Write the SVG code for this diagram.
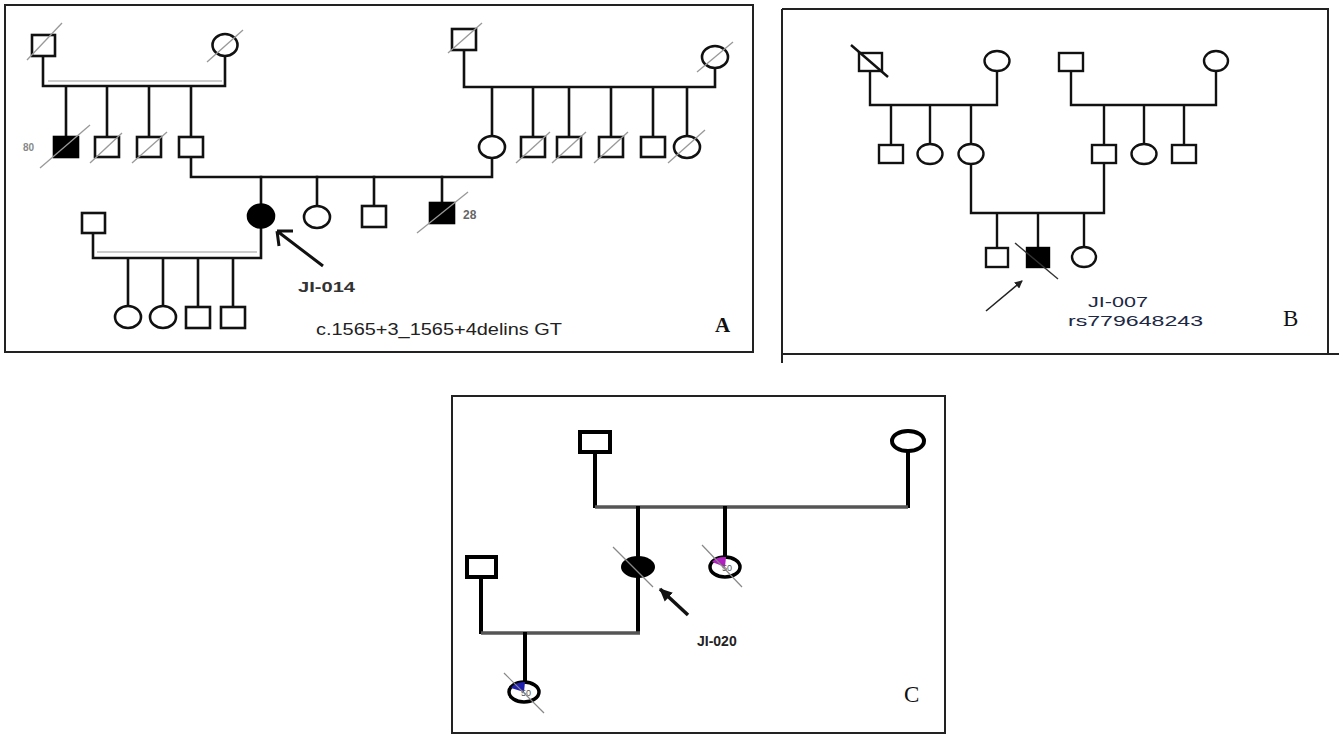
<svg xmlns="http://www.w3.org/2000/svg" width="1339" height="737" viewBox="0 0 1339 737">
<style>
.fr{fill:none;stroke:#222;stroke-width:2}
.sa{fill:#fff;stroke:#111;stroke-width:2.6}
.fa{fill:#000;stroke:#000;stroke-width:2.6}
.la{stroke:#111;stroke-width:2.6;fill:none;stroke-linecap:square}
.gl{stroke:#bbb;stroke-width:1.6;fill:none}
.sl{stroke:#999;stroke-width:1.3}
.sb{fill:#fff;stroke:#111;stroke-width:2.4}
.lb{stroke:#111;stroke-width:2.4;fill:none;stroke-linecap:square}
.sc{fill:#fff;stroke:#000;stroke-width:4}
.lc{stroke:#000;stroke-width:4;fill:none;stroke-linecap:square}
.hc{stroke:#555;stroke-width:3.5;fill:none}
.t{font-family:"Liberation Sans",Arial,sans-serif}
.s{font-family:"Liberation Serif","Times New Roman",serif}
</style>
<defs>
<marker id="ahB" markerWidth="8" markerHeight="8" refX="7" refY="4" orient="auto" markerUnits="userSpaceOnUse"><path d="M0,0 L8,4 L0,8 Z" fill="#222"/></marker>
<marker id="ahC" markerWidth="14" markerHeight="14" refX="12" refY="7" orient="auto" markerUnits="userSpaceOnUse"><path d="M0,1 L13,7 L0,13 Z" fill="#111"/></marker>
</defs>

<!-- frames -->
<g id="frames">
<rect class="fr" x="5" y="5" width="748" height="347"/>
<path class="fr" d="M782,9 H1328 V354 M782,9 V363 M782,354 H1339"/>
<rect class="fr" x="452" y="396" width="493" height="337"/>
</g>

<!-- connectors -->
<g id="connectors">
<!-- Panel A -->
<path class="gl" d="M48,81 H222"/>
<path class="la" d="M43,56 V86 H225 V56 M66,86 V137 M107,86 V137 M149,86 V137 M191,86 V137"/>
<path class="la" d="M191,158 V177 H492 V158"/>
<path class="la" d="M464,50 V87 H715 V68 M492,87 V136 M533,87 V137 M569,87 V137 M611,87 V137 M653,87 V137 M687,87 V136"/>
<path class="la" d="M261,177 V204 M317,177 V206 M374,177 V206 M442,177 V203"/>
<path class="gl" d="M97,252 H257"/>
<path class="la" d="M261,228 V258 H93 V233 M128,258 V306 M163,258 V306 M198,258 V306 M233,258 V306"/>
<path d="M323,266 L277,231 M277,231 L293,231 M277,231 L279,246" stroke="#111" stroke-width="3" fill="none"/>
<!-- Panel B -->
<path class="lb" d="M870,71 V105 H997 V71 M891,105 V145 M930,105 V145 M971,105 V145"/>
<path class="lb" d="M1071,71 V105 H1216 V71 M1104,105 V145 M1144,105 V145 M1184,105 V145"/>
<path class="lb" d="M971,164 V213 H1104 V163 M997,213 V248 M1038,213 V248 M1084,213 V247"/>
<path d="M986,311 L1022,281" stroke="#222" stroke-width="1.6" marker-end="url(#ahB)"/>
<!-- Panel C -->
<path class="lc" d="M595,452 V506 M908,451 V506"/>
<path class="hc" d="M595,507 H908"/>
<path class="lc" d="M638,508 V556 M725,508 V556 M638,578 V632 M481,577 V632"/>
<path class="hc" d="M481,633 H640"/>
<path class="lc" d="M525,634 V682"/>
<path d="M688,615 L660,589" stroke="#111" stroke-width="3.5" marker-end="url(#ahC)"/>
</g>

<!-- Panel A nodes -->
<g id="A-I1"><rect class="sa" x="32" y="35" width="23" height="21"/><line class="sl" x1="27" y1="60" x2="62" y2="23"/></g>
<g id="A-I2"><ellipse class="sa" cx="225" cy="45" rx="12.5" ry="11"/><line class="sl" x1="207" y1="62" x2="243" y2="30"/></g>
<g id="A-II1"><rect class="fa" x="54" y="137" width="24" height="20"/><line class="sl" x1="40" y1="168" x2="90" y2="125"/><text class="t" x="23" y="151" font-size="10" font-weight="bold" fill="#888">80</text></g>
<g id="A-II2"><rect class="sa" x="95" y="137" width="24" height="20"/><line class="sl" x1="90" y1="163" x2="122" y2="133"/></g>
<g id="A-II3"><rect class="sa" x="137" y="137" width="24" height="20"/><line class="sl" x1="132" y1="163" x2="167" y2="132"/></g>
<g id="A-II4"><rect class="sa" x="179" y="137" width="24" height="20"/></g>
<g id="A-I3"><rect class="sa" x="452" y="29" width="24" height="21"/><line class="sl" x1="448" y1="53" x2="482" y2="23"/></g>
<g id="A-I4"><ellipse class="sa" cx="715" cy="57" rx="13" ry="11"/><line class="sl" x1="697" y1="72" x2="733" y2="42"/></g>
<g id="A-II5"><ellipse class="sa" cx="492" cy="147" rx="13" ry="11"/></g>
<g id="A-II6"><rect class="sa" x="521" y="137" width="24" height="20"/><line class="sl" x1="516" y1="163" x2="550" y2="132"/></g>
<g id="A-II7"><rect class="sa" x="557" y="137" width="24" height="20"/><line class="sl" x1="552" y1="163" x2="586" y2="132"/></g>
<g id="A-II8"><rect class="sa" x="599" y="137" width="24" height="20"/><line class="sl" x1="594" y1="163" x2="628" y2="132"/></g>
<g id="A-II9"><rect class="sa" x="641" y="137" width="24" height="20"/></g>
<g id="A-II10"><ellipse class="sa" cx="687" cy="147" rx="13" ry="11"/><line class="sl" x1="668" y1="163" x2="705" y2="130"/></g>
<g id="A-III0"><rect class="sa" x="82" y="213" width="23" height="20"/></g>
<g id="A-III1"><ellipse class="fa" cx="261" cy="216" rx="13" ry="11.5"/></g>
<g id="A-III2"><ellipse class="sa" cx="317" cy="217" rx="13" ry="11"/></g>
<g id="A-III3"><rect class="sa" x="362" y="206" width="24" height="21"/></g>
<g id="A-III4"><rect class="fa" x="430" y="203" width="24" height="20"/><line class="sl" x1="417" y1="233" x2="468" y2="192"/><text class="t" x="463" y="219" font-size="12" font-weight="bold" fill="#666">28</text></g>
<g id="A-IV1"><ellipse class="sa" cx="128" cy="317" rx="13" ry="11"/></g>
<g id="A-IV2"><ellipse class="sa" cx="163" cy="317" rx="13" ry="11"/></g>
<g id="A-IV3"><rect class="sa" x="186" y="307" width="24" height="21"/></g>
<g id="A-IV4"><rect class="sa" x="221" y="307" width="24" height="21"/></g>
<g id="A-labels">
<text class="t" x="298" y="292" font-size="15" font-weight="bold" fill="#333" textLength="57" lengthAdjust="spacingAndGlyphs">JI-014</text>
<text class="t" x="316" y="335" font-size="16" fill="#222" textLength="246" lengthAdjust="spacingAndGlyphs">c.1565+3_1565+4delins GT</text>
<text class="s" x="715" y="332" font-size="21" font-weight="bold" fill="#111">A</text>
</g>

<!-- Panel B nodes -->
<g id="B-I1"><rect class="sb" x="859" y="53" width="23" height="18"/><line x1="851" y1="45" x2="888" y2="77" stroke="#111" stroke-width="2.4"/></g>
<g id="B-I2"><ellipse class="sb" cx="997" cy="61" rx="12.5" ry="10"/></g>
<g id="B-I3"><rect class="sb" x="1059" y="53" width="24" height="18"/></g>
<g id="B-I4"><ellipse class="sb" cx="1216" cy="61" rx="12" ry="10"/></g>
<g id="B-II1"><rect class="sb" x="879" y="145" width="24" height="18"/></g>
<g id="B-II2"><ellipse class="sb" cx="930" cy="154" rx="12.5" ry="10"/></g>
<g id="B-II3"><ellipse class="sb" cx="971" cy="154" rx="12.5" ry="10"/></g>
<g id="B-II4"><rect class="sb" x="1092" y="145" width="24" height="18"/></g>
<g id="B-II5"><ellipse class="sb" cx="1144" cy="154" rx="12.5" ry="10"/></g>
<g id="B-II6"><rect class="sb" x="1172" y="145" width="24" height="18"/></g>
<g id="B-III1"><rect class="sb" x="986" y="248" width="22" height="19"/></g>
<g id="B-III2"><rect class="fa" x="1027" y="248" width="22" height="19" style="stroke-width:2.4"/><line x1="1015" y1="243" x2="1058" y2="279" stroke="#333" stroke-width="1.4"/></g>
<g id="B-III3"><ellipse class="sb" cx="1084" cy="257" rx="12" ry="10"/></g>
<g id="B-labels">
<text class="t" x="1088" y="307" font-size="15" fill="#1c2844" textLength="60" lengthAdjust="spacingAndGlyphs">JI-007</text>
<text class="t" x="1068" y="326" font-size="15" fill="#1c2844" textLength="135" lengthAdjust="spacingAndGlyphs">rs779648243</text>
<text class="s" x="1283" y="326" font-size="23" fill="#111">B</text>
</g>

<!-- Panel C nodes -->
<g id="C-I1"><rect class="sc" x="580" y="432" width="30" height="20"/></g>
<g id="C-I2"><ellipse class="sc" cx="908" cy="441" rx="16" ry="10"/></g>
<g id="C-II0"><rect class="sc" x="467" y="557" width="29" height="20"/></g>
<g id="C-II1"><ellipse cx="638" cy="567" rx="17" ry="11" fill="#000"/><line x1="613" y1="547" x2="653" y2="587" stroke="#888" stroke-width="1.2"/></g>
<g id="C-II2"><ellipse cx="725" cy="567" rx="15" ry="10" fill="#fff" stroke="#000" stroke-width="3.5"/><path d="M712,562 A14,9 0 0 1 726,557 L725,567 Z" fill="#b020c0"/><text class="t" x="727" y="571" font-size="9" fill="#555" text-anchor="middle">50</text><line x1="702" y1="545" x2="742" y2="587" stroke="#888" stroke-width="1.2"/></g>
<g id="C-III1"><ellipse cx="524" cy="692" rx="15" ry="10" fill="#fff" stroke="#000" stroke-width="3.5"/><path d="M511,688 A14,9 0 0 1 525,682 L524,692 Z" fill="#2020b0"/><text class="t" x="526" y="696" font-size="9" fill="#555" text-anchor="middle">50</text><line x1="504" y1="673" x2="544" y2="713" stroke="#888" stroke-width="1.2"/></g>
<g id="C-labels">
<text class="t" x="697" y="646" font-size="14" font-weight="bold" fill="#222">JI-020</text>
<text class="s" x="904" y="702" font-size="23" fill="#111">C</text>
</g>
</svg>
